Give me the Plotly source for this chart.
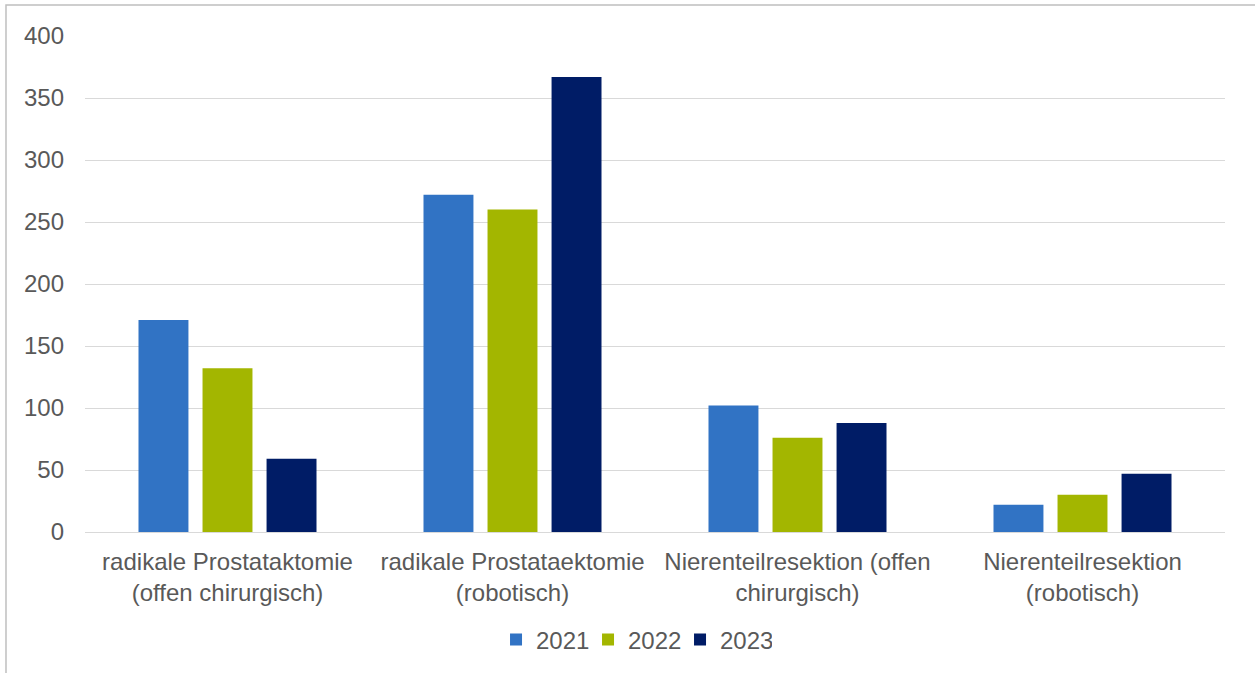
import plotly.graph_objects as go

categories = [
    "radikale Prostataktomie<br>(offen chirurgisch)",
    "radikale Prostataektomie<br>(robotisch)",
    "Nierenteilresektion (offen<br>chirurgisch)",
    "Nierenteilresektion<br>(robotisch)",
]
years = ["2021", "2022", "2023"]
values_2021 = [171, 272, 102, 22]
values_2022 = [132, 260, 76, 30]
values_2023 = [59, 367, 88, 47]
colors = ["#3173C4", "#A3B600", "#001C66"]
tick_vals = [0, 50, 100, 150, 200, 250, 300, 350, 400]

fig = go.Figure()
for name, vals, col in zip(years, [values_2021, values_2022, values_2023], colors):
    fig.add_trace(go.Bar(x=categories, y=vals, name=name, marker=dict(color=col, line=dict(width=0))))

fig.update_layout(
    width=1255, height=673,
    margin=dict(l=85, r=30, t=36, b=140),
    paper_bgcolor="white", plot_bgcolor="white",
    font=dict(family="Liberation Sans, Arial, sans-serif", size=24, color="#595959"),
    barmode="group", bargap=0.326, bargroupgap=0.22,
    showlegend=True,
    legend=dict(orientation="h", x=0.4816, xanchor="center", y=-0.215, yanchor="middle",
                font=dict(size=24, color="#595959"), itemwidth=30, traceorder="normal",
                entrywidth=47, entrywidthmode="pixels"),
    xaxis=dict(showgrid=False, showline=False, ticks="", ticklabelstandoff=13,
               tickfont=dict(size=24, color="#595959")),
    yaxis=dict(range=[0, 400], tickvals=tick_vals, showgrid=True, gridcolor="#D9D9D9", gridwidth=1,
               zeroline=True, zerolinecolor="#D9D9D9", zerolinewidth=1, showline=False,
               ticks="", ticklabelstandoff=20, tickfont=dict(size=24, color="#595959")),
    shapes=[dict(type="rect", xref="paper", yref="paper", x0=-0.0693, x1=1.2, y0=-0.6, y1=1.0624,
                 line=dict(color="#BFBFBF", width=1.5), fillcolor="rgba(0,0,0,0)", layer="below")],
)

fig.write_html("out.html", config={"displayModeBar": False},
               post_script="document.body.style.margin='0px';")
